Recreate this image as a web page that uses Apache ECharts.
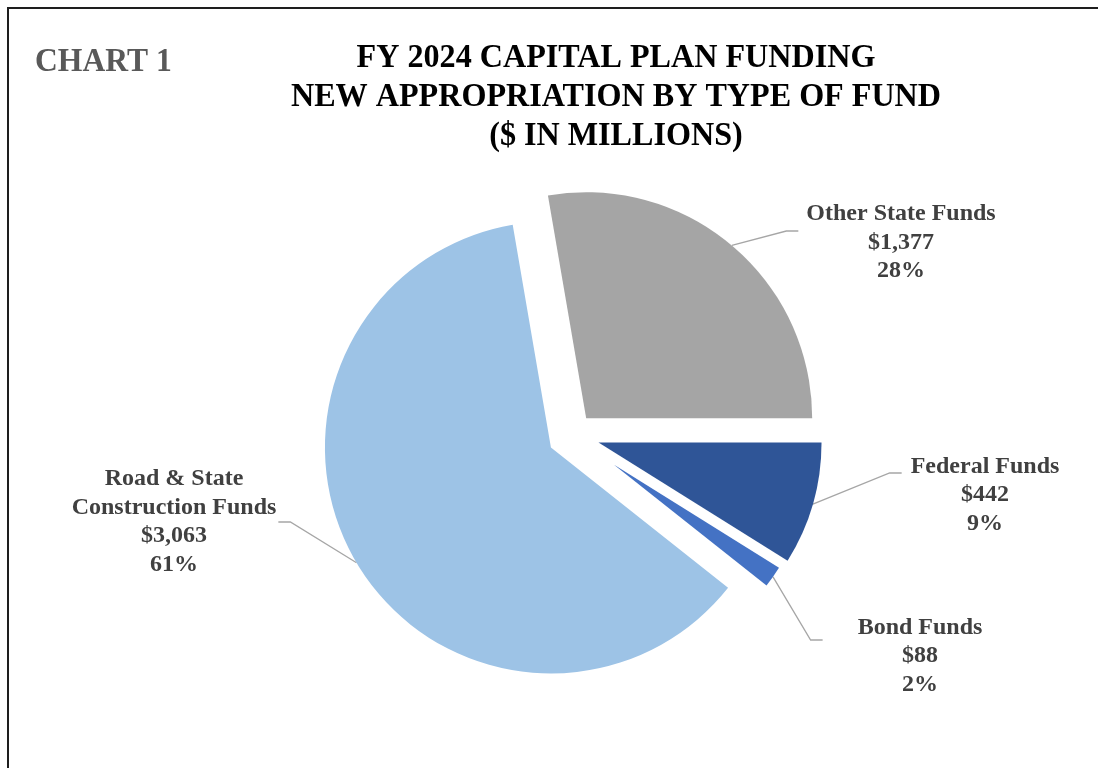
<!DOCTYPE html>
<html><head><meta charset="utf-8">
<script src="https://cdn.jsdelivr.net/npm/echarts@6/dist/echarts.min.js"></script>
<style>
html,body{margin:0;padding:0;background:#fff;overflow:hidden;width:1098px;height:768px;}
#chart{position:absolute;left:0;top:0;width:1098px;height:768px;}
#frame{position:absolute;left:7px;top:7px;width:1200px;height:900px;border-top:2px solid #1e1e1e;border-left:2px solid #1e1e1e;pointer-events:none;}
</style></head>
<body><div id="chart"></div><div id="frame"></div>
<script>
// ---- data ----
const categories = ['Other State Funds', 'Federal Funds', 'Bond Funds', 'Road & State Construction Funds'];
const labelNames = ['Other State Funds', 'Federal Funds', 'Bond Funds', 'Road & State\nConstruction Funds'];
const values = [1377, 442, 88, 3063];
const pctLabels = ['28%', '9%', '2%', '61%'];
const titleLines = ['FY 2024 CAPITAL PLAN FUNDING', 'NEW APPROPRIATION BY TYPE OF FUND', '($ IN MILLIONS)'];
const chartTag = 'CHART 1';

// ---- style / layout ----
const colors = ['#A5A5A5', '#2F5597', '#4472C4', '#9DC3E6'];
const explode = [22, 27.6, 51, 24.5];
const radii = [226, 223, 195, 226];
const baseCenter = [572, 435];
const startAngle = 99.74;
// label anchor (where leader line ends), horizontal padding, spacer height above text
const labelBoxes = [
  {x: 901, y: 231, padX: 8, spacer: 23},
  {x: 985, y: 473, padX: 9, spacer: 44},
  {x: 920, y: 640, padX: 35, spacer: 32},
  {x: 174, y: 522, padX: 2, spacer: 0}
];

const total = values.reduce((a, b) => a + b, 0);
let cum = 0;
const series = values.map((v, i) => {
  const mid = (startAngle - (cum + v / 2) / total * 360) * Math.PI / 180;
  cum += v;
  const cx = baseCenter[0] + explode[i] * Math.cos(mid);
  const cy = baseCenter[1] - explode[i] * Math.sin(mid);
  const box = labelBoxes[i];
  return {
    type: 'pie',
    center: [cx, cy],
    radius: radii[i],
    startAngle: startAngle,
    clockwise: true,
    avoidLabelOverlap: false,
    silent: true,
    animation: false,
    emphasis: {disabled: true},
    data: values.map((val, j) => ({
      name: categories[j],
      value: val,
      itemStyle: {color: j === i ? colors[j] : 'rgba(0,0,0,0)', borderWidth: 0},
      label: {show: j === i},
      labelLine: {show: j === i}
    })),
    label: {
      position: 'outside',
      overflow: 'none',
      formatter: (p) => (box.spacer ? '{g| }\n' : '') + labelNames[p.dataIndex] + '\n$' +
        values[p.dataIndex].toLocaleString('en-US') + '\n' + pctLabels[p.dataIndex],
      color: '#404040',
      fontFamily: 'Liberation Serif',
      fontWeight: 'bold',
      fontSize: 24,
      lineHeight: 28.5,
      align: 'center',
      padding: [0, box.padX, 0, box.padX],
      rich: {g: {fontSize: 2, lineHeight: box.spacer || 1}}
    },
    labelLine: {length: 10, length2: 12, minTurnAngle: 20, lineStyle: {color: '#A6A6A6', width: 1.3}},
    labelLayout: (p) => p.dataIndex === i ? {x: box.x, y: box.y, align: 'center', verticalAlign: 'middle'} : {}
  };
});

const chart = echarts.init(document.getElementById('chart'), null, {renderer: 'canvas'});
chart.setOption({
  backgroundColor: '#ffffff',
  animation: false,
  graphic: [
    {type: 'text', x: 616, y: 97, scaleX: 0.945, silent: true,
     style: {text: titleLines.join('\n'), fontFamily: 'Liberation Serif', fontWeight: 'bold', fontSize: 34, lineHeight: 39, fill: '#000000', align: 'center', verticalAlign: 'middle'}},
    {type: 'text', x: 35, y: 62, scaleX: 0.93, silent: true,
     style: {text: chartTag, fontFamily: 'Liberation Serif', fontWeight: 'bold', fontSize: 34, fill: '#595959', align: 'left', verticalAlign: 'middle'}}
  ],
  series: series
});
</script>
</body></html>
